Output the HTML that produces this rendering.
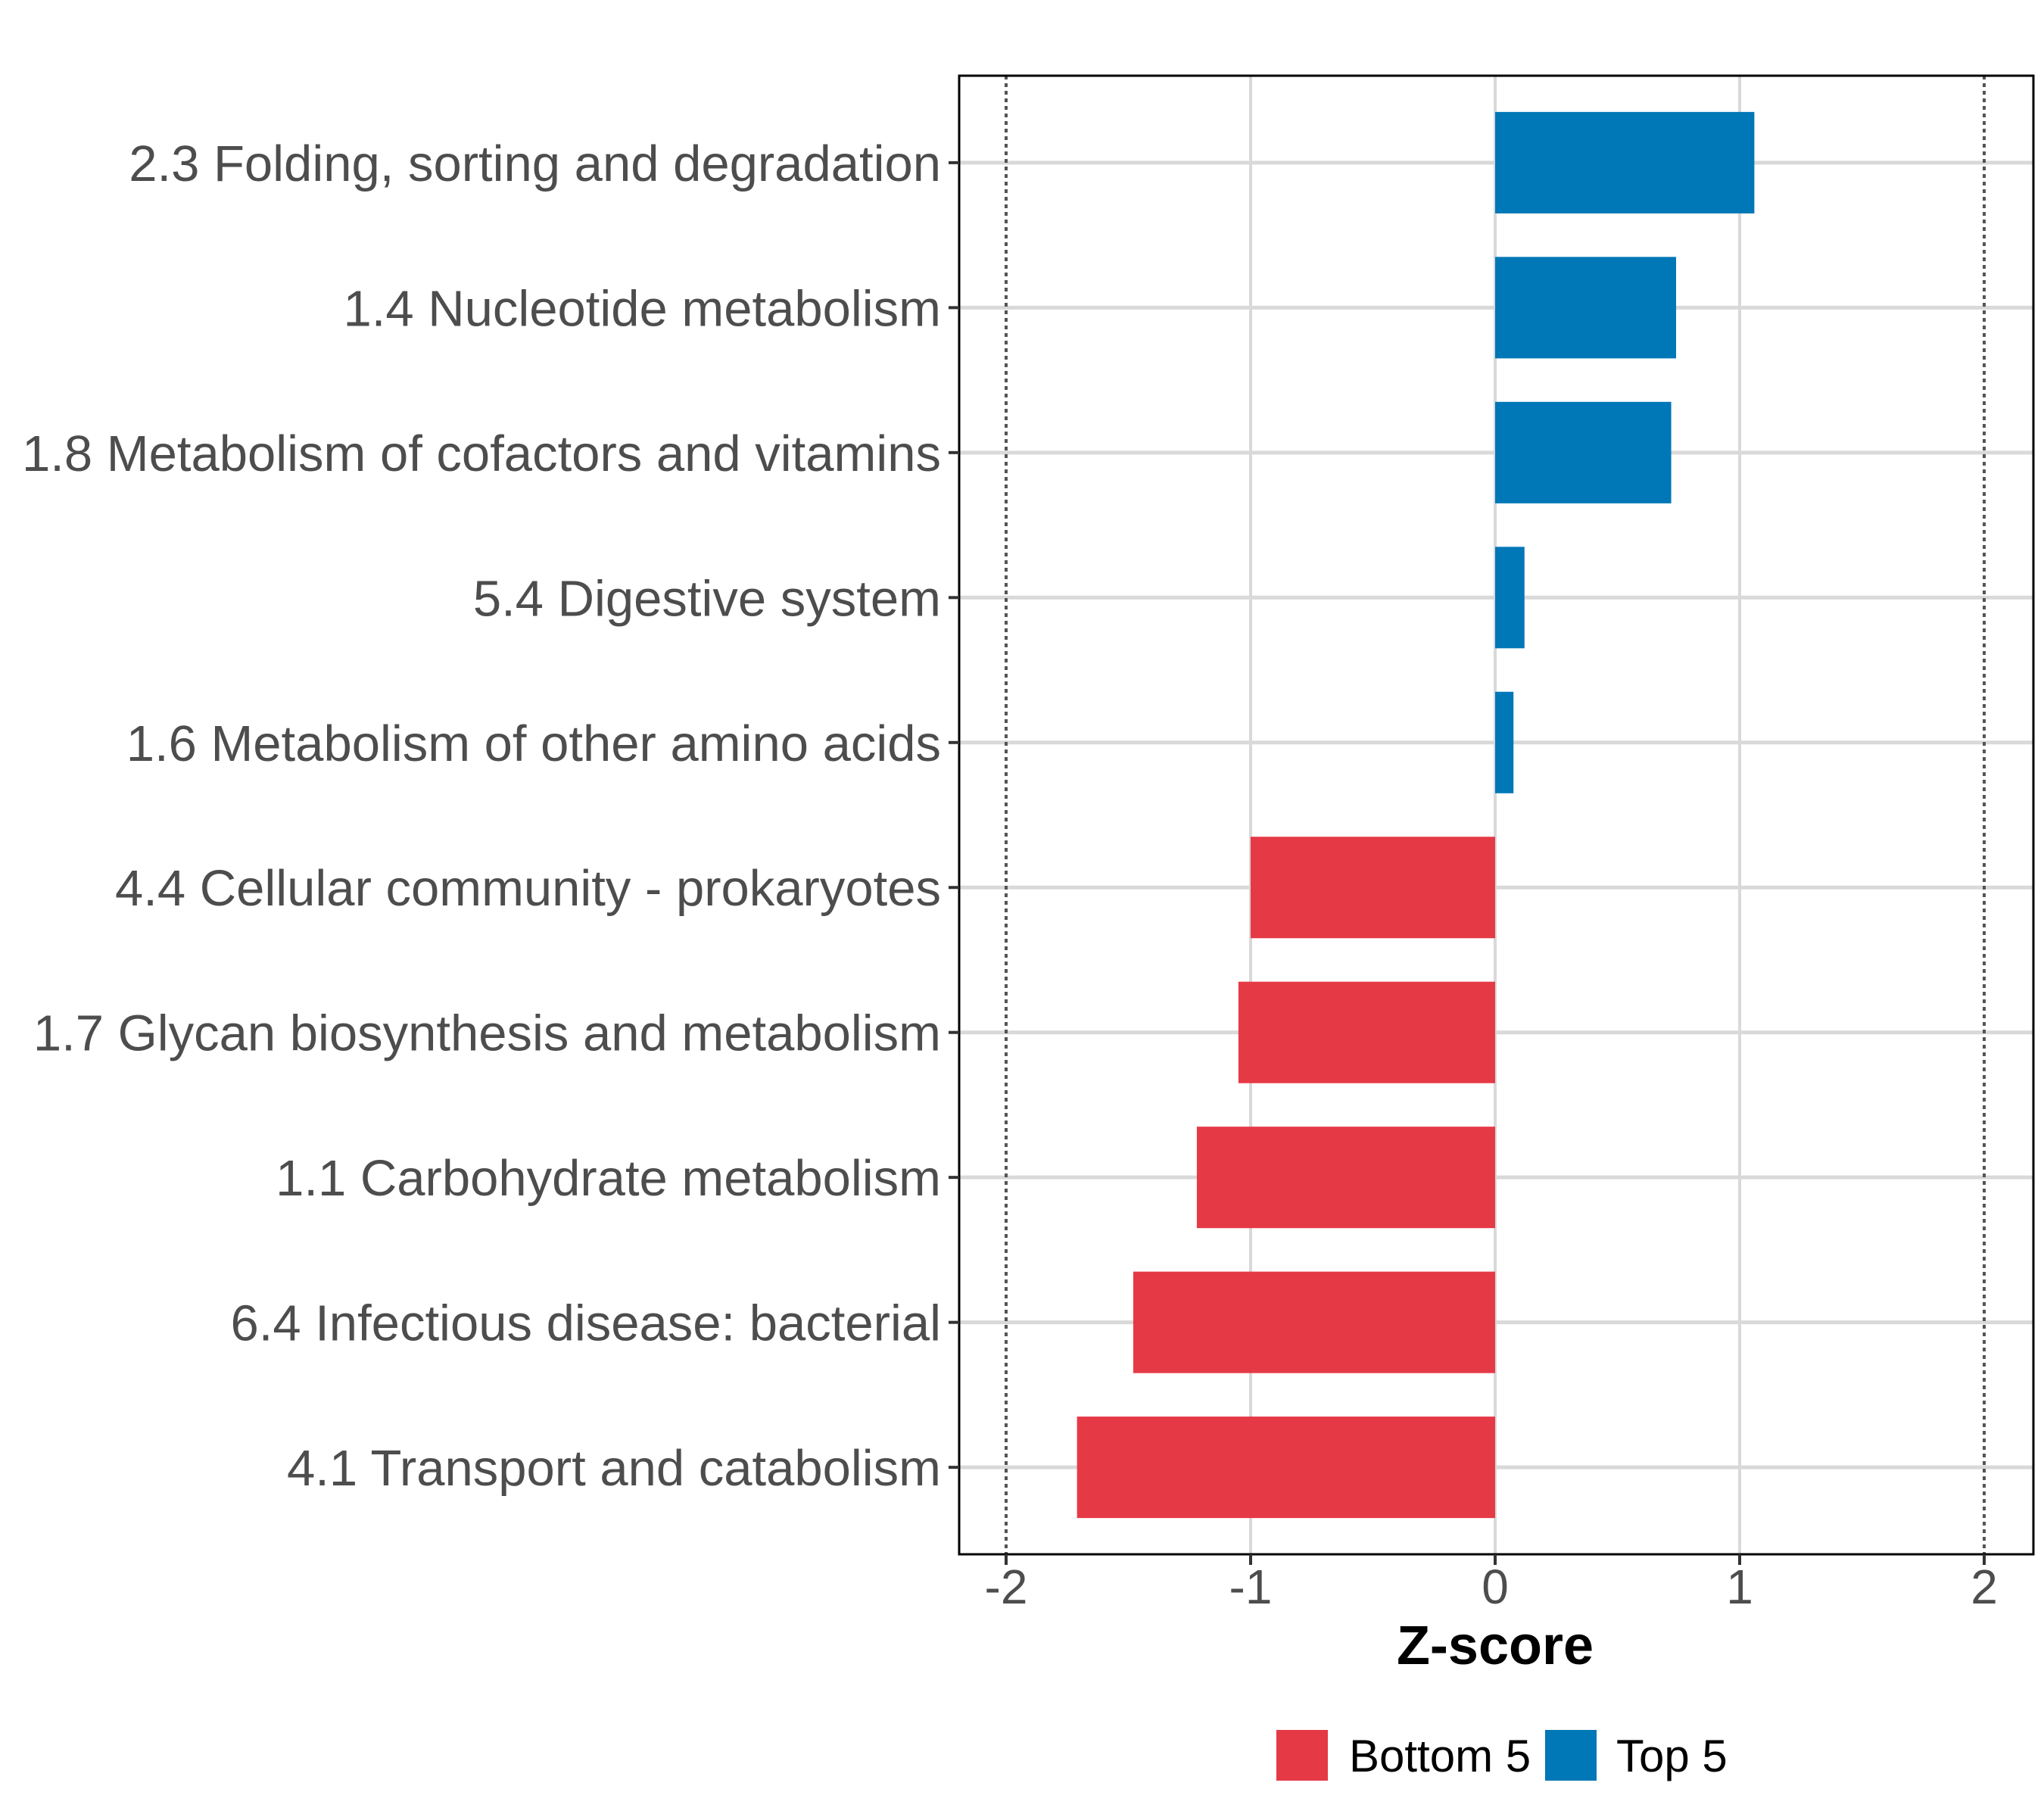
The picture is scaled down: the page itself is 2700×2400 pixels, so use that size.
<!DOCTYPE html>
<html><head><meta charset="utf-8"><style>
html,body{margin:0;padding:0;background:#fff;}
svg{display:block;font-family:"Liberation Sans",Arial,sans-serif;}
</style></head><body>
<svg id="chart" width="2700" height="2400" viewBox="0 0 2700 2400" xmlns="http://www.w3.org/2000/svg"></svg>
<script>
const categories = ["2.3 Folding, sorting and degradation","1.4 Nucleotide metabolism","1.8 Metabolism of cofactors and vitamins","5.4 Digestive system","1.6 Metabolism of other amino acids","4.4 Cellular community - prokaryotes","1.7 Glycan biosynthesis and metabolism","1.1 Carbohydrate metabolism","6.4 Infectious disease: bacterial","4.1 Transport and catabolism"];
const values = [1.06, 0.74, 0.72, 0.12, 0.075, -1.0, -1.05, -1.22, -1.48, -1.71];
const groups = ["Top 5","Top 5","Top 5","Top 5","Top 5","Bottom 5","Bottom 5","Bottom 5","Bottom 5","Bottom 5"];
const xTicks = [-2,-1,0,1,2];
const xTickLabels = ["-2","-1","0","1","2"];
const legendLabels = ["Bottom 5","Top 5"];

const NS="http://www.w3.org/2000/svg";
const svg=document.getElementById('chart');
const colors={"Bottom 5":"#E63946","Top 5":"#0077B6"};
const L=1267,R=2686,T=100,B=2053;
const x0=1975,unit=323;
const xs=v=>x0+v*unit;
const n=categories.length;
const step=(B-T)/(n-1+1.2);
const ys=i=>T+step*0.6+i*step;
function mk(tag,attrs,parent){const e=document.createElementNS(NS,tag);for(const k in attrs)e.setAttribute(k,attrs[k]);(parent||svg).appendChild(e);return e;}

xTicks.forEach((t,i)=>{
  if(Math.abs(t)===2) return;
  const g=mk('line',{x1:xs(t),x2:xs(t),y1:T,y2:B,stroke:'#D9D9D9','stroke-width':4});
  
  
});
categories.forEach((c,i)=>{
  const g=mk('line',{x1:L,x2:R,y1:ys(i),y2:ys(i),stroke:'#D9D9D9','stroke-width':5});
  
  
});
[-2,2].forEach(t=>{
  const g=mk('line',{x1:xs(t),x2:xs(t),y1:T,y2:B,stroke:'#555','stroke-width':4,'stroke-dasharray':'5 5'});
  
  
});
const bh=step*0.7;
values.forEach((v,i)=>{
  const xa=Math.min(xs(0),xs(v)),w=Math.abs(xs(v)-xs(0));
  const r=mk('rect',{x:xa,y:ys(i)-bh/2,width:w,height:bh,fill:colors[groups[i]]});
  
  
});
const pb=mk('rect',{x:L,y:T,width:R-L,height:B-T,fill:'none',stroke:'#000','stroke-width':3});


categories.forEach((c,i)=>{
  const tk=mk('line',{x1:L-14,x2:L,y1:ys(i),y2:ys(i),stroke:'#333','stroke-width':4});
  
  
  const t=mk('text',{x:L-24,y:ys(i)+24,'text-anchor':'end','font-size':67,fill:'#4D4D4D'});
  t.textContent=c;
  
  
});
xTicks.forEach((v,i)=>{
  const tk=mk('line',{x1:xs(v),x2:xs(v),y1:B,y2:B+14,stroke:'#333','stroke-width':4});
  
  
  const t=mk('text',{x:xs(v),y:2118,'text-anchor':'middle','font-size':64,fill:'#4D4D4D'});
  t.textContent=xTickLabels[i];
  
  
});
const at=mk('text',{x:x0,y:2198,'text-anchor':'middle','font-size':72,'font-weight':'bold',fill:'#000'});
at.textContent='Z-score';


const keyX=[1686,2041],txtX=[1782,2135];
legendLabels.forEach((lab,i)=>{
  const k=mk('rect',{x:keyX[i],y:2285,width:68,height:67,fill:colors[lab]});
  
  
  const t=mk('text',{x:txtX[i],y:2340,'font-size':60,fill:'#000'});
  t.textContent=lab;
  
  
});
</script>
</body></html>
